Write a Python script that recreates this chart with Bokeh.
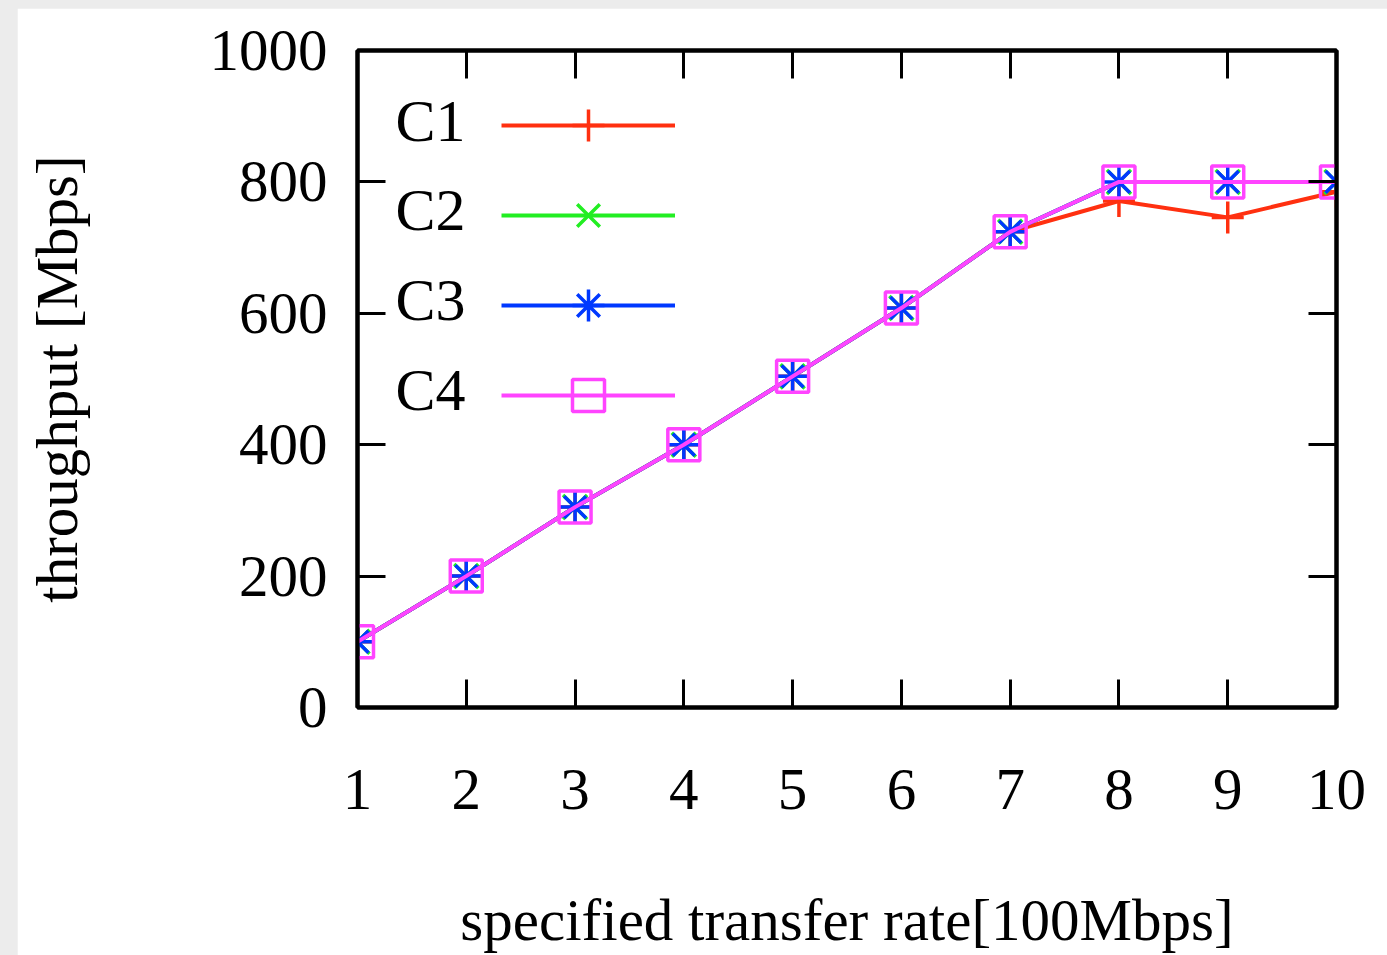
from bokeh.plotting import figure
from bokeh.models import (Range1d, FixedTicker, LinearAxis, Legend, LegendItem, Spacer, Label)
from bokeh.layouts import column, row
from bokeh.embed import file_html
from bokeh.resources import INLINE

# ---- data ----
rates = [1, 2, 3, 4, 5, 6, 7, 8, 9, 10]
c1 = [100, 200, 305, 400, 504, 608, 724, 771, 746, 785]
c2 = [100, 200, 305, 400, 504, 608, 724, 800, 800, 800]
c3 = [100, 200, 305, 400, 504, 608, 724, 800, 800, 800]
c4 = [100, 200, 305, 400, 504, 608, 724, 800, 800, 800]
series_names = ["C1", "C2", "C3", "C4"]
x_ticks = [1, 2, 3, 4, 5, 6, 7, 8, 9, 10]
y_ticks = [0, 200, 400, 600, 800, 1000]

FONT = "Liberation Serif"
FS = "59px"
colors = ["#ff3010", "#22ee22", "#0038ff", "#ff44ff"]
markers = ["cross", "x", "asterisk", "square"]
marker_sizes = [32, 34, 31, 32]

p = figure(width=1370, height=947, output_backend="svg", toolbar_location=None,
           x_range=Range1d(1, 10), y_range=Range1d(0, 1000),
           min_border_left=340, min_border_right=51, min_border_top=42, min_border_bottom=248)
p.background_fill_color = "white"
p.border_fill_color = "white"
p.grid.visible = False
p.outline_line_color = "black"
p.outline_line_width = 4

def style_axis(ax, labels=True):
    ax.axis_line_width = 4
    ax.axis_line_color = "black"
    ax.major_tick_in = 28
    ax.major_tick_out = 0
    ax.major_tick_line_width = 3
    ax.major_tick_line_color = "black"
    ax.minor_tick_line_color = None
    ax.major_label_text_font = FONT
    ax.major_label_text_font_size = FS
    ax.major_label_text_color = "black" if labels else None
    ax.axis_label_text_font = FONT
    ax.axis_label_text_font_size = FS
    ax.axis_label_text_font_style = "normal"
    ax.axis_label_text_color = "black"

xa = p.xaxis[0]
ya = p.yaxis[0]
xa.ticker = FixedTicker(ticks=x_ticks)
ya.ticker = FixedTicker(ticks=y_ticks)
style_axis(xa)
style_axis(ya)
xa.axis_label = "specified transfer rate[100Mbps]"
ya.axis_label = "throughput [Mbps]"
xa.major_label_standoff = 62
ya.major_label_standoff = 30
xa.axis_label_standoff = 75
ya.axis_label_standoff = 117

ra = LinearAxis(ticker=FixedTicker(ticks=y_ticks))
style_axis(ra, labels=False)
ra.major_label_text_font_size = "0px"
ta = LinearAxis(ticker=FixedTicker(ticks=x_ticks))
style_axis(ta, labels=False)
ta.major_label_text_font_size = "0px"
p.add_layout(ra, "right")
p.add_layout(ta, "above")

items = []
for name, ys, col, mk, ms in zip(series_names, [c1, c2, c3, c4], colors, markers, marker_sizes):
    lr = p.line(rates, ys, line_color=col, line_width=4)
    sr = p.scatter(rates, ys, marker=mk, size=ms, line_color=col, line_width=3.5,
                   fill_color=None)
    items.append(LegendItem(label=name, renderers=[lr, sr]))

# legend: sample glyphs drawn by the Legend, names drawn to the left of them (gnuplot style)
legend = Legend(items=items, location=(144, 272), orientation="vertical",
                glyph_width=174, glyph_height=80, label_height=80,
                label_standoff=0, spacing=10, padding=0, margin=0,
                background_fill_alpha=0, border_line_color=None,
                label_text_font=FONT, label_text_font_size="1px",
                label_text_color=None)
p.add_layout(legend, "center")

row_gap = 89.7
first_baseline = 587
for i, name in enumerate(series_names):
    p.add_layout(Label(x=108, y=first_baseline - i * row_gap, x_units="screen", y_units="screen",
                       text=name, text_align="right", text_baseline="alphabetic",
                       text_font=FONT, text_font_size="60px", text_color="black"))

layout = column(Spacer(width=1387, height=8),
                row(Spacer(width=17, height=947), p),
                styles={"background-color": "#ececec"})

open("out.html", "w").write(file_html(layout, INLINE))
